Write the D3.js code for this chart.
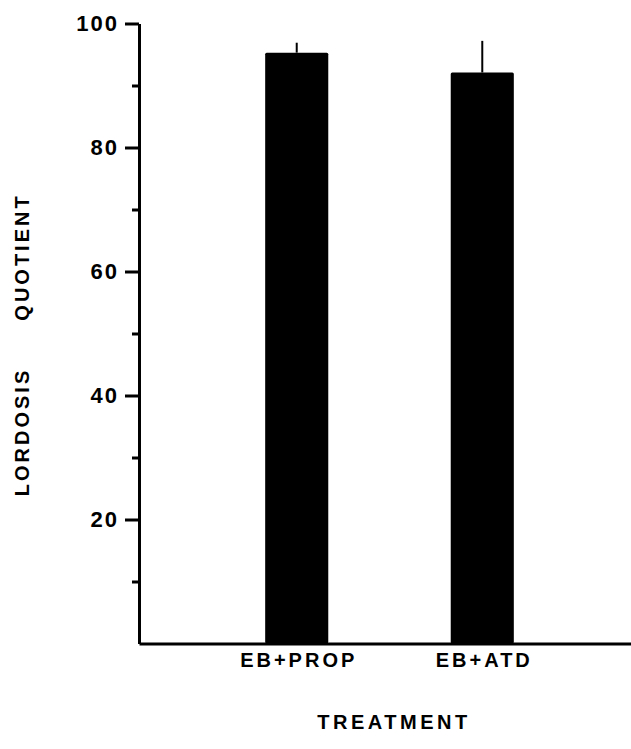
<!DOCTYPE html>
<html>
<head>
<meta charset="utf-8">
<script src="https://cdn.jsdelivr.net/npm/d3@7"></script>
<style>
  body { margin: 0; background: #fff; }
  svg { display: block; font-family: "Liberation Sans", Arial, sans-serif; }
  .axis path, .axis line { stroke: #000; stroke-width: 3; }
  .axis text { fill: #000; }
</style>
</head>
<body>
<div id="chart"></div>
<script>
(function() {
  const width = 631;
  const height = 749;

  // data
  const treatments = ["EB+PROP", "EB+ATD"];
  const lordosisQuotient = [95.3, 92.1];
  const sem = [1.6, 5.1];
  const majorTicks = [20, 40, 60, 80, 100];
  const minorTicks = [10, 30, 50, 70, 90];

  const x0 = 139, y0 = 643.5, yTop = 23.5;

  const x = d3.scaleBand()
    .domain(treatments)
    .range([x0, 640])
    .paddingInner(0.66)
    .paddingOuter(0.68);

  const y = d3.scaleLinear()
    .domain([0, 100])
    .range([y0, yTop]);

  const svg = d3.select("#chart")
    .append("svg")
      .attr("width", width)
      .attr("height", height);

  // bars
  svg.selectAll(".bar")
    .data(treatments)
    .enter().append("rect")
      .attr("class", "bar")
      .attr("x", d => x(d))
      .attr("y", (d, i) => y(lordosisQuotient[i]))
      .attr("width", x.bandwidth())
      .attr("height", (d, i) => y(0) - y(lordosisQuotient[i]))
      .attr("rx", 1.5)
      .attr("fill", "#000");

  // error bars, upper half only
  svg.selectAll(".err")
    .data(treatments)
    .enter().append("line")
      .attr("class", "err")
      .attr("x1", d => x(d) + x.bandwidth() / 2)
      .attr("x2", d => x(d) + x.bandwidth() / 2)
      .attr("y1", (d, i) => y(lordosisQuotient[i]))
      .attr("y2", (d, i) => y(lordosisQuotient[i] + sem[i]))
      .attr("stroke", "#000")
      .attr("stroke-width", 2);

  // minor ticks
  svg.append("g")
    .attr("class", "axis minor")
    .attr("transform", `translate(${x0}, 0)`)
    .call(d3.axisLeft(y).tickValues(minorTicks).tickSize(7).tickFormat(""))
    .call(g => g.select(".domain").remove());

  // y axis
  svg.append("g")
    .attr("class", "axis y")
    .attr("transform", `translate(${x0}, 0)`)
    .call(d3.axisLeft(y).tickValues(majorTicks).tickSize(14).tickSizeOuter(0).tickPadding(6))
    .call(g => g.selectAll("text")
      .style("font-size", "22px")
      .style("font-weight", "bold")
      .style("letter-spacing", "2px"));

  // x axis
  svg.append("g")
    .attr("class", "axis x")
    .attr("transform", `translate(0, ${y0})`)
    .call(d3.axisBottom(x).tickSize(0).tickSizeOuter(0).tickPadding(9))
    .call(g => g.selectAll("text")
      .attr("dx", "2px")
      .style("font-size", "20px")
      .style("font-weight", "bold")
      .style("letter-spacing", "3px"));

  svg.append("text")
    .attr("x", 394)
    .attr("y", 729)
    .style("text-anchor", "middle")
    .style("font-size", "20px")
    .style("font-weight", "bold")
    .style("letter-spacing", "3.5px")
    .text("TREATMENT");

  // y axis title, two words set apart
  const ylab = [["LORDOSIS", 432], ["QUOTIENT", 257]];
  svg.selectAll(".ylab")
    .data(ylab)
    .enter().append("text")
      .attr("class", "ylab")
      .attr("transform", d => `translate(29, ${d[1]}) rotate(-90)`)
      .style("text-anchor", "middle")
      .style("font-size", "20px")
      .style("font-weight", "bold")
      .style("letter-spacing", "3px")
      .text(d => d[0]);
})();
</script>
</body>
</html>
